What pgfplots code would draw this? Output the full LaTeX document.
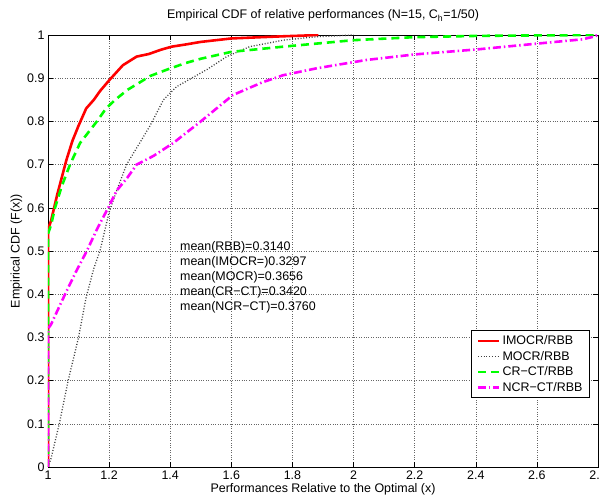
\documentclass[border=0pt]{standalone}
\usepackage{fontspec}
\setmainfont{Liberation Sans}
\usepackage{pgfplots}
\pgfplotsset{compat=1.18}
\usetikzlibrary{calc}
\definecolor{mgreen}{RGB}{0,255,0}
\definecolor{mmag}{RGB}{255,0,255}

\begin{document}
\begin{tikzpicture}
\begin{axis}[
  scale only axis,
  width=550bp,height=432bp,
  xmin=1,xmax=2.8,ymin=0,ymax=1,
  xtick={1,1.2,...,2.8},
  ytick={0,0.1,...,1},
  tick align=inside,
  major tick length=5bp,
  tick style={black,line width=0.5pt},
  axis line style={black,line width=0.7pt},
  /pgf/number format/assume math mode=true,
  tick label style={font=\fontsize{12.5}{14}\selectfont},
  label style={font=\fontsize{12.5}{14}\selectfont},
  title style={font=\fontsize{12.5}{14}\selectfont,yshift=4bp},
  title={Empirical CDF of relative performances (N=15, C\textsubscript{h}=1/50)},
  xlabel={Performances Relative to the Optimal (x)},
  ylabel={Empirical CDF (F(x))},
  xlabel style={yshift=3bp},
  ylabel style={yshift=-2bp},
  grid=major,
  grid style={black!60,dotted,line width=0.5pt},
  legend cell align=left,
  legend style={at={(rel axis cs:0.985,0.16)},anchor=south east,
    font=\fontsize{12.5}{14}\selectfont,draw=black,line width=0.6pt,
    row sep=1pt,inner xsep=5pt,inner ysep=3pt},
  legend image code/.code={\draw[#1] (0cm,0cm) -- (0.75cm,0cm);},
]
\addplot[red,line width=2.6pt] coordinates {
(1,0) (1,0.55) (1.01,0.57) (1.02,0.60) (1.03,0.63) (1.045,0.67) (1.06,0.71)
(1.08,0.755) (1.1,0.79) (1.125,0.83) (1.15,0.85) (1.17,0.87) (1.2,0.895)
(1.245,0.93) (1.29,0.95) (1.33,0.956) (1.37,0.966) (1.405,0.973) (1.45,0.978)
(1.5,0.984) (1.55,0.988) (1.6,0.992) (1.7,0.995) (1.77,0.997) (1.85,0.999) (1.885,1)
};
\addlegendentry{IMOCR/RBB}
\addplot[black!75,line width=1.3pt,dash pattern=on 1pt off 1.8pt] coordinates {
(1,0) (1.01,0.02) (1.037,0.1) (1.066,0.2) (1.1,0.3) (1.124,0.39) (1.15,0.46)
(1.17,0.5) (1.2,0.59) (1.225,0.64) (1.257,0.7) (1.3,0.75) (1.334,0.79)
(1.378,0.85) (1.42,0.88) (1.47,0.9) (1.52,0.92) (1.585,0.95) (1.66,0.973)
(1.77,0.988) (1.88,0.996) (2.0,1)
};
\addlegendentry{MOCR/RBB}
\addplot[mgreen,line width=2.6pt,dash pattern=on 8pt off 5pt] coordinates {
(1,0) (1,0.54) (1.01,0.56) (1.023,0.6) (1.045,0.65) (1.072,0.7) (1.105,0.75)
(1.16,0.8) (1.19,0.83) (1.22,0.85) (1.26,0.873) (1.3,0.89) (1.334,0.905)
(1.39,0.92) (1.45,0.935) (1.5,0.945) (1.6,0.961) (1.77,0.973) (2.0,0.988)
(2.2,0.995) (2.41,0.998) (2.6,0.999) (2.8,1)
};
\addlegendentry{CR−CT/RBB}
\addplot[mmag,line width=2.6pt,dash pattern=on 8pt off 3pt on 1.5pt off 3pt] coordinates {
(1,0) (1,0.32) (1.01,0.33) (1.023,0.35) (1.056,0.40) (1.09,0.45) (1.127,0.5)
(1.16,0.55) (1.197,0.6) (1.225,0.64) (1.26,0.67) (1.29,0.7) (1.345,0.72)
(1.41,0.75) (1.5,0.8) (1.605,0.861) (1.7,0.89) (1.77,0.907) (1.88,0.923)
(2.04,0.942) (2.2,0.955) (2.41,0.967) (2.6,0.98) (2.75,0.99) (2.785,0.996) (2.8,1)
};
\addlegendentry{NCR−CT/RBB}
\node[anchor=north west,align=left,font=\fontsize{12.5}{15}\selectfont,inner sep=0pt]
  at (axis cs:1.432,0.523) {mean(RBB)=0.3140\\mean(IMOCR=)0.3297\\mean(MOCR)=0.3656\\mean(CR−CT)=0.3420\\mean(NCR−CT)=0.3760};
\end{axis}
\pgfresetboundingbox
\path ($(current axis.south west)+(-48bp,-33bp)$) rectangle ($(current axis.north east)+(2bp,35bp)$);
\end{tikzpicture}
\end{document}
